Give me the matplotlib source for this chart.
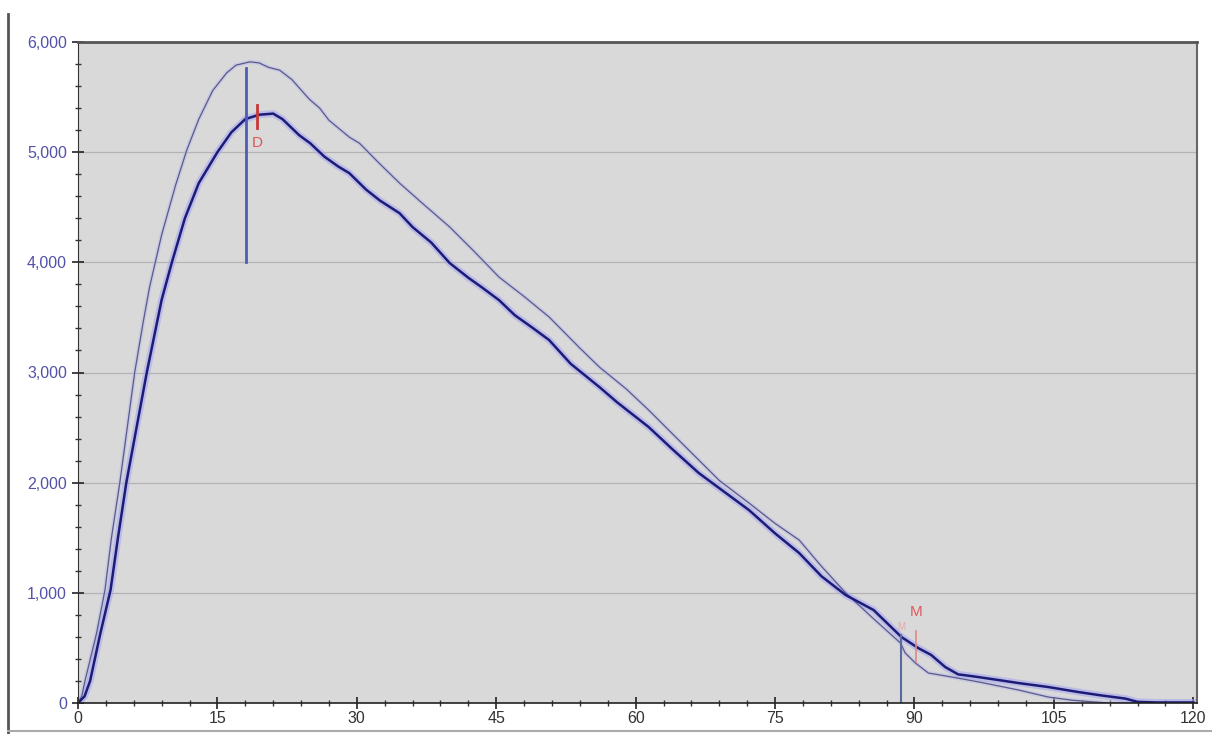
import matplotlib
matplotlib.use('Agg')
import matplotlib.pyplot as plt
from matplotlib.lines import Line2D
from matplotlib.ticker import MultipleLocator, FuncFormatter

plt.rcParams['font.family'] = ['Liberation Sans', 'DejaVu Sans']

# curve 1 (thick dark trace)
thick_x = [0, 0.7, 1.3, 2.4, 3.5, 4.3, 5.2, 6.3, 7.4, 9.0, 10.1, 11.5, 13, 15,
           16.5, 18, 19.5, 21, 22, 23.8, 25, 26.5, 28, 29.2, 31, 32.5, 34.6,
           36, 38, 40, 42, 43.5, 45.3, 47, 49, 50.7, 53, 56.1, 58, 61.4, 64,
           66.8, 69, 72.2, 75, 77.6, 80, 82.6, 85.6, 88.6, 90.4, 91.8, 93.3,
           94.7, 96.5, 99, 101.2, 104.4, 107.6, 110, 112.7, 114, 116, 120]
thick_y = [0, 60, 200, 630, 1025, 1500, 2000, 2500, 3000, 3660, 4000, 4400,
           4720, 5000, 5180, 5300, 5340, 5350, 5300, 5154, 5080, 4960, 4870,
           4809, 4660, 4560, 4446, 4320, 4180, 3993, 3860, 3770, 3657, 3520,
           3400, 3294, 3080, 2868, 2730, 2505, 2300, 2087, 1950, 1751, 1540,
           1361, 1150, 980, 844, 599, 499, 436, 327, 260, 240, 209, 181, 145,
           100, 70, 40, 10, 5, 5]

# curve 2 (thin light trace)
thin_x = [0, 0.4, 0.75, 2, 2.9, 3.6, 4.5, 5.3, 6.1, 7.0, 7.7, 9, 10.5, 11.7,
          13, 14.5, 16, 17, 18.5, 19.5, 20.5, 21.7, 23, 24.9, 26, 27, 29.2,
          30.3, 32.4, 34.6, 37, 40, 42.5, 45.3, 48, 50.7, 53.9, 56.1, 59, 61.4,
          64, 66.8, 69, 72.2, 75, 77.6, 80, 82.6, 85.4, 88.5, 89, 90.1, 91.5,
          94, 97, 101.2, 104.4, 107, 110.8, 118]
thin_y = [0, 60, 200, 635, 1025, 1500, 2000, 2500, 3000, 3450, 3775, 4250,
          4700, 5018, 5300, 5560, 5720, 5790, 5820, 5810, 5770, 5744, 5660,
          5480, 5400, 5290, 5136, 5080, 4900, 4719, 4540, 4320, 4110, 3866,
          3690, 3503, 3230, 3049, 2850, 2659, 2440, 2205, 2020, 1815, 1630,
          1479, 1240, 1000, 780, 544, 454, 363, 272, 236, 190, 118, 54, 25, 0,
          0]

x_ticks = [0, 15, 30, 45, 60, 75, 90, 105, 120]
y_ticks = [0, 1000, 2000, 3000, 4000, 5000, 6000]

fig = plt.figure(figsize=(12.12, 7.34), dpi=100)
ax = fig.add_axes([78 / 1212, 31 / 734, 1119 / 1212, 661 / 734])
ax.set_facecolor('#d9d9d9')

ax.grid(axis='y', color='#b3b3b3', linewidth=0.9)
ax.set_axisbelow(True)

# soft halo under the traces
ax.plot(thin_x, thin_y, color='#b8b8ee', linewidth=3, alpha=0.5,
        solid_joinstyle='round')
ax.plot(thick_x, thick_y, color='#a8a8f0', linewidth=5, alpha=0.6,
        solid_joinstyle='round')
ax.plot(thin_x, thin_y, color='#5a5a88', linewidth=0.9)
ax.plot(thick_x, thick_y, color='#1c1c78', linewidth=1.8)

# markers
ax.plot([18.05, 18.05], [4000, 5760], color='#4d5db5', linewidth=2)
ax.plot([19.3, 19.3], [5218, 5430], color='#c83838', linewidth=2)
ax.text(19.3, 5082, 'D', color='#e05555', fontsize=11, ha='center',
        va='center')
ax.plot([88.6, 88.6], [0, 620], color='#5a6aa0', linewidth=1.5)
ax.text(88.6, 690, 'M', color='#e8a8a8', fontsize=7, ha='center',
        va='center')
ax.plot([90.2, 90.2], [370, 650], color='#e08888', linewidth=1.2)
ax.text(90.2, 826, 'M', color='#e05a5a', fontsize=11, ha='center',
        va='center')

ax.set_xlim(0, 120.4)
ax.set_ylim(0, 6000)
ax.set_xticks(x_ticks)
ax.set_yticks(y_ticks)
ax.xaxis.set_minor_locator(MultipleLocator(3))
ax.yaxis.set_minor_locator(MultipleLocator(200))
ax.yaxis.set_major_formatter(FuncFormatter(lambda v, p: f'{int(v):,}'))

ax.tick_params(axis='both', which='major', direction='inout', length=8,
               width=1.2, color='#222222', labelsize=11.5)
ax.tick_params(axis='both', which='minor', direction='inout', length=5,
               width=1, color='#333333')
ax.tick_params(axis='y', labelcolor='#5252a8', pad=4)
ax.tick_params(axis='x', labelcolor='#333333', pad=2)

ax.spines['top'].set_color('#555555')
ax.spines['top'].set_linewidth(2)
ax.spines['right'].set_color('#666666')
ax.spines['right'].set_linewidth(1.5)
ax.spines['left'].set_color('#333333')
ax.spines['bottom'].set_color('#222222')
ax.spines['bottom'].set_linewidth(1.2)

# outer frame pieces of the screenshot
fig.add_artist(Line2D([8 / 1212, 8 / 1212], [0, 1 - 14 / 734],
                      color='#555555', linewidth=2))
fig.add_artist(Line2D([8 / 1212, 1], [3 / 734, 3 / 734],
                      color='#aaaaaa', linewidth=1.5))

fig.savefig('out.png', dpi=100)
